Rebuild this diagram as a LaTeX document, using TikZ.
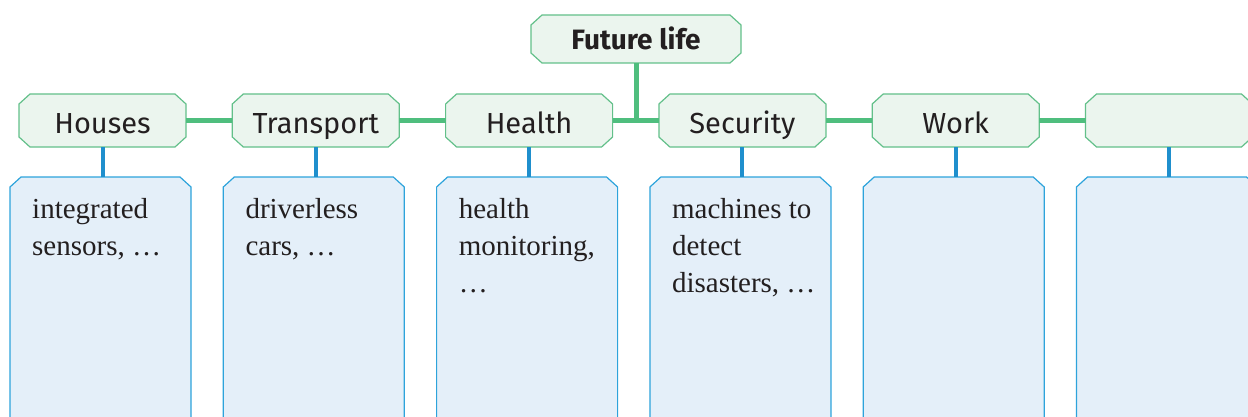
\documentclass[tikz,border=0pt]{standalone}
\usepackage{fontspec}
\usetikzlibrary{calc,positioning,backgrounds}
\newfontfamily\headfont{Fira Sans}
\newfontfamily\bodyfont{Liberation Serif}
\definecolor{headfill}{HTML}{EBF5EE}
\definecolor{headline}{HTML}{63C08A}
\definecolor{linkgreen}{HTML}{4FBE7E}
\definecolor{linkblue}{HTML}{1F8FCD}
\definecolor{boxfill}{HTML}{E4EFF9}
\definecolor{boxline}{HTML}{2DA3DB}
\definecolor{txt}{HTML}{231F20}

% cut-corner outline round a node, drawn behind it
\newcommand{\CutCorners}[2]{%
  \begin{scope}[on background layer]
  \filldraw[#2] ([xshift=11pt]#1.north west) -- ([xshift=-11pt]#1.north east)
    -- ([yshift=-10pt]#1.north east) -- ([yshift=10pt]#1.south east)
    -- ([xshift=-11pt]#1.south east) -- ([xshift=11pt]#1.south west)
    -- ([yshift=10pt]#1.south west) -- ([yshift=-10pt]#1.north west) -- cycle;
  \end{scope}}

\begin{document}
\begin{tikzpicture}[x=1pt,y=1pt,
  head/.style={rectangle, minimum width=167pt, minimum height=53pt,
    inner sep=0pt, outer sep=0pt, text height=25pt, text depth=0pt, text=txt,
    font=\headfont\fontsize{29}{32}\selectfont},
  headline/.style={draw=headline, fill=headfill, line width=1.2pt},
  infobox/.style={rectangle, minimum width=181pt, minimum height=260pt,
    inner sep=0pt, outer sep=0pt},
  boxline/.style={draw=boxline, fill=boxfill, line width=1.2pt},
  info/.style={anchor=north west, inner sep=0pt, align=left, text=txt,
    font=\bodyfont\fontsize{29}{37}\selectfont},
  greenlink/.style={draw=linkgreen, line width=5pt},
  bluelink/.style={draw=linkblue, line width=4pt}]
\clip (0,0) rectangle (1248,416);
\newcommand{\DistOfHead}{213.3};

% top of the tree
\node[head, minimum width=210pt, minimum height=48pt, text height=21pt,
  font=\headfont\bfseries\fontsize{28}{31}\selectfont]
  (life) at (636,377) {Future life};
\CutCorners{life}{headline}

% topic headers and their boxes
\foreach \i/\name in
{1/Houses,2/Transport,3/Health,4/Security,5/Work,6/{}}
{
    \node[head] (h\i) at ({102.5+\DistOfHead*(\i-1)}, {295.5}) {\name};
    \CutCorners{h\i}{headline}
    \node[infobox, below=30pt of h\i, xshift=-2pt] (c\i) {};
    \CutCorners{c\i}{boxline}
    \draw[bluelink] (h\i.south) -- (h\i.south |- c\i.north);
}

\foreach \i/\j in
{1/2,2/3,3/4,4/5,5/6}
{
    \draw[greenlink] (h\i) -- (h\j);
}
\draw[greenlink] (life.south) -- ($(life.south |- h3.east)+(0,-2.5)$);

% texts in the boxes
\node[info] (t1) at ([xshift=-68.5pt,yshift=-21pt]c1.north) {integrated\\sensors, \dots};
\node[info] (t2) at ([xshift=-68.5pt,yshift=-21pt]c2.north) {driverless\\cars, \dots};
\node[info] (t3) at ([xshift=-68.5pt,yshift=-21pt]c3.north) {health\\monitoring,\\\dots};
\node[info] (t4) at ([xshift=-68.5pt,yshift=-21pt]c4.north) {machines to\\detect\\disasters, \dots};
\end{tikzpicture}
\end{document}
